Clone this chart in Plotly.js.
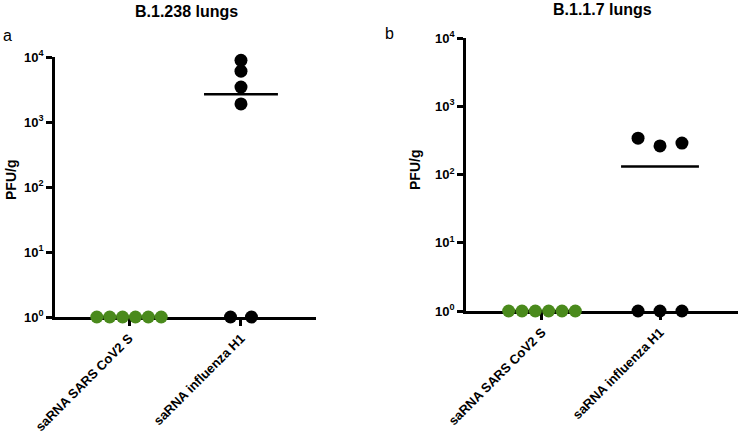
<!DOCTYPE html>
<html>
<head>
<meta charset="utf-8">
<script src="https://cdn.plot.ly/plotly-3.0.1.min.js"></script>
<style>
  html, body { margin: 0; padding: 0; background: #fff; }
  #chart { width: 738px; height: 435px; }
</style>
</head>
<body>
<div id="chart"></div>
<script>
// groups on the x axis
const groups = ['saRNA SARS CoV2 S', 'saRNA influenza H1'];

// PFU/g per animal (undetectable plotted at 1)
const b1238Sars = [1, 1, 1, 1, 1, 1];
const b1238Flu = [8900, 6050, 3450, 1900, 1, 1];
const b117Sars = [1, 1, 1, 1, 1, 1];
const b117Flu = [341, 262, 289, 1, 1, 1];

const tickVals = [1, 10, 100, 1000, 10000];
const tickText = ['10<sup>0</sup>', '10<sup>1</sup>', '10<sup>2</sup>', '10<sup>3</sup>', '10<sup>4</sup>'];

const GREEN = '#4a8a1c';
const FONT = 'Liberation Sans, Arial, sans-serif';

function median(arr) {
    const s = [...arr].sort((a, b) => a - b);
    const m = Math.floor(s.length / 2);
    return s.length % 2 ? s[m] : (s[m - 1] + s[m]) / 2;
}

// points whose values sit close together (in log units) get spread sideways
function spread(values, center, step) {
    const order = values.map((v, i) => i).sort((a, b) => values[a] - values[b]);
    const clusters = [];
    order.forEach(i => {
        const last = clusters[clusters.length - 1];
        if (last && Math.log10(values[i]) - Math.log10(values[last[last.length - 1]]) < 0.15) {
            last.push(i);
        } else {
            clusters.push([i]);
        }
    });
    const xs = new Array(values.length);
    clusters.forEach(c => {
        c.sort((a, b) => a - b); // keep data order left to right
        c.forEach((i, j) => { xs[i] = center + (j - (c.length - 1) / 2) * step; });
    });
    return xs;
}

function groupTraces(values, gi, color, axis, step) {
    const med = median(values);
    return [
        {
            x: [gi - 0.33, gi + 0.33], y: [med, med],
            xaxis: 'x' + axis, yaxis: 'y' + axis,
            type: 'scatter', mode: 'lines',
            line: { color: '#000', width: 2.5 },
            cliponaxis: false, hoverinfo: 'skip'
        },
        {
            x: spread(values, gi, step), y: values,
            xaxis: 'x' + axis, yaxis: 'y' + axis,
            type: 'scatter', mode: 'markers',
            marker: { color: color, size: 13 },
            cliponaxis: false
        }
    ];
}

const data = [
    ...groupTraces(b1238Sars, 0, GREEN, '', 0.115),
    ...groupTraces(b1238Flu, 1, '#000', '', 0.187),
    ...groupTraces(b117Sars, 0, GREEN, '2', 0.113),
    ...groupTraces(b117Flu, 1, '#000', '2', 0.186)
];

const W = 738, H = 435;
function xAxis(l, r, range) {
    return {
        domain: [l / W, r / W], range: range,
        tickvals: [0, 1], ticktext: groups.map(g => '<b>' + g + '</b>'),
        tickangle: -45, ticks: 'outside', ticklen: 6, tickwidth: 2.5, tickcolor: '#000',
        showline: true, linecolor: '#000', linewidth: 2.5,
        showgrid: false, zeroline: false, fixedrange: true,
        tickfont: { family: FONT, size: 13, color: '#000' },
        layer: 'below traces'
    };
}
function yAxis(bottom, top, anchor) {
    return {
        type: 'log', range: [0, 4], anchor: anchor,
        domain: [(H - bottom) / H, (H - top) / H],
        tickvals: tickVals, ticktext: tickText.map(t => '<b>' + t + '</b>'),
        ticks: 'outside', ticklen: 6, tickwidth: 2.5, tickcolor: '#000',
        showline: true, linecolor: '#000', linewidth: 2.5,
        showgrid: false, zeroline: false, fixedrange: true,
        tickfont: { family: FONT, size: 13, color: '#000' },
        layer: 'below traces'
    };
}

function label(text, px, py, size, angle) {
    return {
        text: text, x: px / W, y: 1 - py / H, xref: 'paper', yref: 'paper',
        xanchor: 'center', yanchor: 'middle', textangle: angle || 0,
        showarrow: false, font: { family: FONT, size: size, color: '#000' }
    };
}

const layout = {
    width: W, height: H,
    margin: { l: 0, r: 0, t: 0, b: 0 },
    paper_bgcolor: '#fff', plot_bgcolor: '#fff',
    showlegend: false,
    xaxis: Object.assign(xAxis(55, 316, [-0.661, 1.67]), { anchor: 'y' }),
    yaxis: yAxis(317, 57, 'x'),
    xaxis2: Object.assign(xAxis(466, 738, [-0.644, 1.661]), { anchor: 'y2' }),
    yaxis2: yAxis(311, 38, 'x2'),
    annotations: [
        label('<b>B.1.238 lungs</b>', 186, 11, 16),
        label('<b>B.1.1.7 lungs</b>', 602, 10, 16),
        label('a', 7, 35, 16),
        label('b', 389, 34, 16),
        label('<b>PFU/g</b>', 11, 180, 14, -90),
        label('<b>PFU/g</b>', 415, 170, 14, -90)
    ]
};

Plotly.newPlot('chart', data, layout, { displayModeBar: false });
</script>
</body>
</html>
